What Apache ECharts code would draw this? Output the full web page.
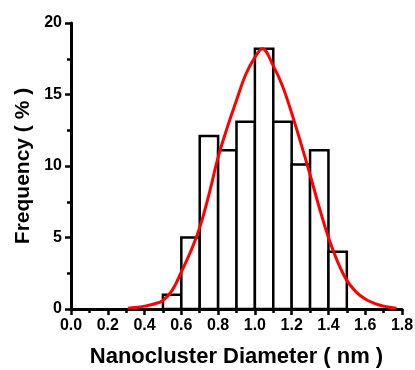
<!DOCTYPE html>
<html>
<head>
<meta charset="utf-8">
<script src="https://cdn.jsdelivr.net/npm/echarts@6/dist/echarts.min.js"></script>
<style>html,body{margin:0;padding:0;background:#fff}#c{width:415px;height:370px}</style>
</head>
<body>
<div id="c"></div>
<script>
// Histogram bins (nm) and frequency (%)
var binStart = [0.5, 0.6, 0.7, 0.8, 0.9, 1.0, 1.1, 1.2, 1.3, 1.4];
var binEnd   = [0.6, 0.7, 0.8, 0.9, 1.0, 1.1, 1.2, 1.3, 1.4, 1.5];
var freq     = [1.0, 5.0, 12.1, 11.1, 13.1, 18.2, 13.1, 10.1, 11.1, 4.0];

// Fitted curve points
var curveX = [0.31, 0.35, 0.40, 0.45, 0.50, 0.55, 0.60, 0.65, 0.70, 0.75, 0.80, 0.85, 0.90, 0.95, 1.00, 1.04, 1.10, 1.15, 1.20, 1.25, 1.30, 1.35, 1.40, 1.45, 1.50, 1.55, 1.60, 1.65, 1.70, 1.77];
var curveY = [0.05, 0.1, 0.2, 0.35, 0.6, 1.3, 2.6, 4.0, 5.7, 8.0, 10.6, 12.7, 14.6, 16.4, 17.6, 18.2, 17.0, 15.6, 13.7, 11.6, 9.4, 7.1, 5.0, 3.3, 2.0, 1.2, 0.7, 0.4, 0.2, 0.05];

var xTicks = ['0.0','0.2','0.4','0.6','0.8','1.0','1.2','1.4','1.6','1.8'];
var yTicks = ['0','5','10','15','20'];

var barData = binStart.map(function (s, i) { return [s, binEnd[i], freq[i]]; });
var curveData = curveX.map(function (x, i) { return [x, curveY[i]]; });

var font = 'Liberation Sans, Arial, sans-serif';
var chart = echarts.init(document.getElementById('c'), null, {renderer: 'canvas'});
chart.setOption({
  animation: false,
  backgroundColor: '#fff',
  grid: {left: 71, right: 13, top: 23, bottom: 61, containLabel: false, outerBoundsMode: 'none'},
  xAxis: {
    type: 'value', min: 0, max: 1.8, interval: 0.2,
    name: 'Nanocluster Diameter ( nm )', nameLocation: 'middle', nameGap: 37,
    nameTextStyle: {fontFamily: font, fontWeight: 'bold', fontSize: 22, color: '#000'},
    axisLine: {show: true, onZero: false, lineStyle: {color: '#000', width: 3, type: 'solid', opacity: 1}},
    axisTick: {show: true, length: 6, lineStyle: {color: '#000', width: 2.5}},
    minorTick: {show: true, splitNumber: 2, length: 4, lineStyle: {color: '#000', width: 2.5}},
    splitLine: {show: false},
    axisLabel: {fontFamily: font, fontWeight: 'bold', fontSize: 16, color: '#000', margin: 9,
      formatter: function (v) { return xTicks[Math.round(v / 0.2)]; }}
  },
  yAxis: {
    type: 'value', min: 0, max: 20, interval: 5, position: 'left',
    name: 'Frequency ( % )', nameLocation: 'middle', nameGap: 37,
    nameTextStyle: {fontFamily: font, fontWeight: 'bold', fontSize: 21, color: '#000'},
    axisLine: {show: true, onZero: false, lineStyle: {color: '#000', width: 3, type: 'solid', opacity: 1}},
    axisTick: {show: true, length: 6, lineStyle: {color: '#000', width: 2.5}},
    minorTick: {show: true, splitNumber: 2, length: 4, lineStyle: {color: '#000', width: 2.5}},
    splitLine: {show: false},
    axisLabel: {fontFamily: font, fontWeight: 'bold', fontSize: 16, color: '#000', margin: 9,
      formatter: function (v) { return yTicks[Math.round(v / 5)]; }}
  },
  series: [
    {
      type: 'custom',
      data: barData,
      encode: {x: [0, 1], y: 2},
      renderItem: function (params, api) {
        var p0 = api.coord([api.value(0), 0]);
        var p1 = api.coord([api.value(1), api.value(2)]);
        return {
          type: 'rect',
          shape: {x: p0[0], y: p1[1], width: p1[0] - p0[0], height: p0[1] - p1[1]},
          style: {fill: '#fff', stroke: '#000', lineWidth: 2.5}
        };
      },
      z: 2
    },
    {
      type: 'line',
      data: curveData,
      smooth: 0.4,
      showSymbol: false,
      lineStyle: {color: '#ff0000', width: 3},
      z: 3
    }
  ]
});
</script>
</body>
</html>
